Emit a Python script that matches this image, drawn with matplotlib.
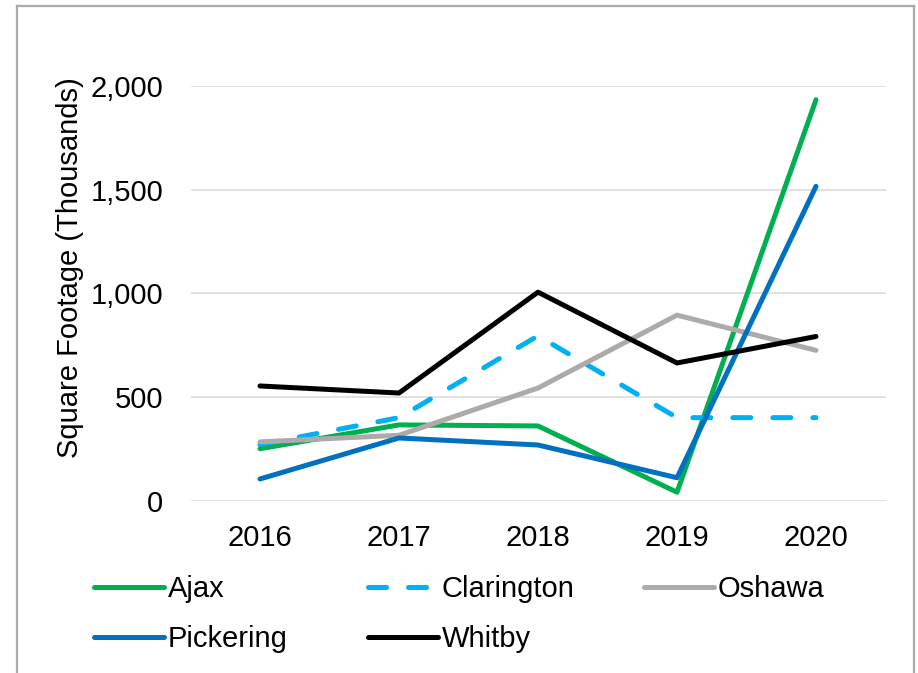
import matplotlib
matplotlib.use("Agg")
import matplotlib.pyplot as plt
from matplotlib.lines import Line2D
from matplotlib.ticker import FuncFormatter

plt.rcParams['font.family'] = ['Liberation Sans', 'DejaVu Sans']

years = ['2016', '2017', '2018', '2019', '2020']
ajax = [250, 365, 360, 40, 1935]
clarington = [270, 400, 795, 400, 400]
oshawa = [283, 315, 543, 895, 725]
pickering = [104, 302, 268, 110, 1517]
whitby = [553, 519, 1006, 664, 792]

series = [
    ('Ajax', ajax, '#00B050', '-'),
    ('Clarington', clarington, '#00B0F0', '--'),
    ('Oshawa', oshawa, '#AEAAAA', '-'),
    ('Pickering', pickering, '#0070C0', '-'),
    ('Whitby', whitby, '#000000', '-'),
]

fig = plt.figure(figsize=(9.18, 6.73), dpi=100)
ax = fig.add_axes([190.5/918, 1 - 500.5/673, 695/918, 414.2/673])

x = list(range(len(years)))
handles = {}
for name, vals, color, ls in series:
    line, = ax.plot(x, vals, color=color, lw=3.6, solid_capstyle='round',
                    solid_joinstyle='round', dash_capstyle='round', label=name)
    if ls == '--':
        line.set_dashes((3.6, 4.4))
    handles[name] = line

ax.set_xlim(-0.5, len(years) - 0.5)
ax.set_ylim(0, 2000)
ax.set_yticks([0, 500, 1000, 1500, 2000])
ax.yaxis.set_major_formatter(FuncFormatter(lambda v, p: f'{int(v):,}'))
ax.set_xticks(x)
ax.set_xticklabels(years)
ax.grid(axis='y', color='#D9D9D9', lw=1.1)
ax.set_axisbelow(True)
for s in ax.spines.values():
    s.set_visible(False)
ax.tick_params(axis='both', length=0, labelsize=21, colors='black')
ax.tick_params(axis='x', pad=17)
ax.tick_params(axis='y', pad=19.5)
ax.set_ylabel('Square Footage (Thousands)', fontsize=21)
ax.yaxis.set_label_coords(-0.153, 0.5625)

# legend in three columns, like Excel's evenly spaced layout
cols = [['Ajax', 'Pickering'], ['Clarington', 'Whitby'], ['Oshawa']]
col_x = [94, 368, 644]
for names, cx in zip(cols, col_x):
    leg = fig.legend([handles[n] for n in names], names, loc='upper left',
                     bbox_to_anchor=(cx/918, 1 - 575/673), frameon=False,
                     fontsize=21, handlelength=2.4, handletextpad=0.12,
                     labelspacing=0.75, borderpad=0, borderaxespad=0)

# chart border
bc = '#ABABAB'
fig.add_artist(Line2D([17/918, 17/918], [0, 1 - 6/673], color=bc, lw=1.6))
fig.add_artist(Line2D([17/918, 913.5/918], [1 - 6/673, 1 - 6/673], color=bc, lw=1.6))
fig.add_artist(Line2D([913.5/918, 913.5/918], [0, 1 - 6/673], color=bc, lw=1.6))

fig.savefig('out.png', dpi=100)
